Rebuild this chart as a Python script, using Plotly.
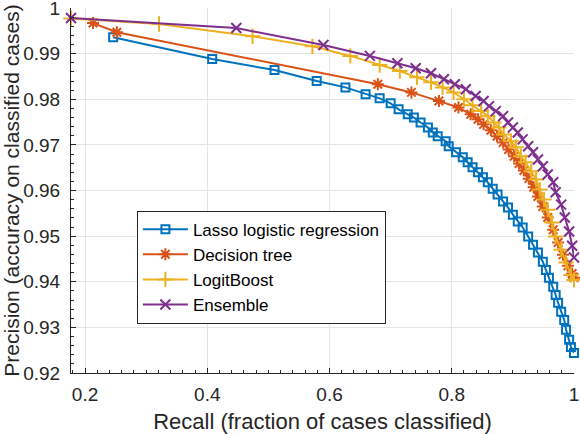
#!/bin/env python3

import plotly.graph_objects as go

# recall (x) / precision (y)
lasso_x = [0.246, 0.408, 0.510, 0.579, 0.626, 0.659, 0.682, 0.700, 0.713, 0.728,
           0.738, 0.749, 0.761, 0.769, 0.777, 0.790, 0.795, 0.807, 0.818, 0.826,
           0.834, 0.843, 0.851, 0.859, 0.867, 0.875, 0.884, 0.892, 0.900, 0.908,
           0.916, 0.925, 0.933, 0.941, 0.949, 0.954, 0.959, 0.966, 0.970, 0.974,
           0.979, 0.984, 0.987, 0.992, 0.995, 1.000]
lasso_y = [0.9936, 0.9888, 0.9864, 0.9840, 0.9826, 0.9811, 0.9802, 0.9791, 0.9778, 0.9767,
           0.9760, 0.9749, 0.9738, 0.9727, 0.9719, 0.9708, 0.9697, 0.9684, 0.9673, 0.9662,
           0.9651, 0.9640, 0.9629, 0.9618, 0.9604, 0.9591, 0.9576, 0.9563, 0.9547, 0.9532,
           0.9519, 0.9499, 0.9481, 0.9464, 0.9444, 0.9426, 0.9409, 0.9389, 0.9371, 0.9354,
           0.9334, 0.9316, 0.9295, 0.9273, 0.9257, 0.9244]

tree_x = [0.213, 0.252, 0.679, 0.734, 0.779, 0.811, 0.831, 0.843, 0.852, 0.864,
          0.874, 0.884, 0.893, 0.902, 0.910, 0.918, 0.926, 0.934, 0.941, 0.949,
          0.957, 0.966, 0.974, 0.982, 0.990, 0.997, 1.000]
tree_y = [0.9967, 0.9947, 0.9833, 0.9815, 0.9796, 0.9782, 0.9767, 0.9756, 0.9745, 0.9732,
          0.9719, 0.9705, 0.9690, 0.9675, 0.9659, 0.9644, 0.9626, 0.9607, 0.9587, 0.9565,
          0.9541, 0.9514, 0.9486, 0.9459, 0.9435, 0.9418, 0.9409]

boost_x = [0.177, 0.321, 0.474, 0.572, 0.634, 0.682, 0.715, 0.743, 0.766, 0.785,
           0.803, 0.820, 0.834, 0.848, 0.859, 0.869, 0.877, 0.885, 0.897, 0.905,
           0.913, 0.921, 0.930, 0.938, 0.944, 0.951, 0.957, 0.964, 0.970, 0.979,
           0.987, 0.995, 1.000]
boost_y = [0.9977, 0.9965, 0.9938, 0.9916, 0.9895, 0.9875, 0.9862, 0.9848, 0.9837, 0.9826,
           0.9815, 0.9800, 0.9787, 0.9774, 0.9763, 0.9749, 0.9738, 0.9723, 0.9708, 0.9695,
           0.9675, 0.9662, 0.9642, 0.9624, 0.9602, 0.9580, 0.9558, 0.9530, 0.9499, 0.9470,
           0.9442, 0.9415, 0.9404]

ens_x = [0.177, 0.4475, 0.590, 0.666, 0.711, 0.741, 0.766, 0.787, 0.805, 0.823,
         0.839, 0.852, 0.861, 0.872, 0.884, 0.892, 0.900, 0.908, 0.916, 0.925,
         0.933, 0.941, 0.949, 0.957, 0.966, 0.970, 0.979, 0.985, 0.992, 0.997,
         1.000]
ens_y = [0.9978, 0.9956, 0.9919, 0.9895, 0.9879, 0.9868, 0.9857, 0.9844, 0.9833, 0.9822,
         0.9807, 0.9796, 0.9785, 0.9774, 0.9763, 0.9749, 0.9738, 0.9727, 0.9712, 0.9697,
         0.9684, 0.9668, 0.9653, 0.9635, 0.9618, 0.9596, 0.9569, 0.9541, 0.9510, 0.9479,
         0.9453]

x_ticks = [0.2, 0.4, 0.6, 0.8, 1.0]
x_labels = ["0.2", "0.4", "0.6", "0.8", "1"]
y_ticks = [0.92, 0.93, 0.94, 0.95, 0.96, 0.97, 0.98, 0.99, 1.0]
y_labels = ["0.92", "0.93", "0.94", "0.95", "0.96", "0.97", "0.98", "0.99", "1"]

series = [
	("Lasso logistic regression", lasso_x, lasso_y, "#0072BD", "square-open", 8),
	("Decision tree", tree_x, tree_y, "#D95319", "asterisk-open", 10),
	("LogitBoost", boost_x, boost_y, "#EDB120", "cross-thin-open", 11),
	("Ensemble", ens_x, ens_y, "#7E2F8E", "x-thin-open", 10),
]

fig = go.Figure()
for name, xs, ys, col, sym, size in series:
	fig.add_trace(go.Scatter(
		x=xs, y=ys, name=name, mode="lines+markers",
		line=dict(color=col, width=2),
		marker=dict(symbol=sym, size=size, color=col, line=dict(color=col, width=2)),
		cliponaxis=False))

axis_common = dict(
	showline=True, linecolor="#262626", linewidth=1,
	ticks="inside", ticklen=5, tickcolor="#262626",
	showgrid=True, gridcolor="#e5e5e5", gridwidth=1,
	zeroline=False, tickfont=dict(size=19, color="#262626"),
	automargin=False, ticklabeloverflow="allow",
)

# tiny epsilon so the end ticks (the "1" labels) are kept
fig.update_xaxes(range=[0.177, 1.0000001], tickvals=x_ticks, ticktext=x_labels,
	minor=dict(dtick=0.02, tick0=0.2, ticks="inside", ticklen=3, tickcolor="#262626", showgrid=False),
	title=dict(text="Recall (fraction of cases classified)", font=dict(size=22, color="#262626"), standoff=9),
	ticklabelstandoff=4,
	**axis_common)
fig.update_yaxes(range=[0.9199999, 1.0000001], tickvals=y_ticks, ticktext=y_labels,
	minor=dict(dtick=0.002, tick0=0.92, ticks="inside", ticklen=3, tickcolor="#262626", showgrid=False),
	title=dict(text="Precision (accuracy on classified cases)", font=dict(size=21, color="#262626"), standoff=5),
	ticklabelstandoff=6,
	**axis_common)

fig.update_layout(
	width=580, height=434,
	margin=dict(l=71, r=6, t=8, b=61),
	plot_bgcolor="white", paper_bgcolor="white",
	font=dict(family="Liberation Sans, Arial, sans-serif", color="#262626"),
	legend=dict(x=0.131, y=0.29, xanchor="left", yanchor="middle",
		bgcolor="white", bordercolor="#262626", borderwidth=1,
		font=dict(size=17, color="black"), itemwidth=45, tracegroupgap=0),
)

# drop the default 8px body margin so the figure sits at the window corner
fig.write_html("out.html", config={"displayModeBar": False},
	post_script="document.body.style.margin='0';")
